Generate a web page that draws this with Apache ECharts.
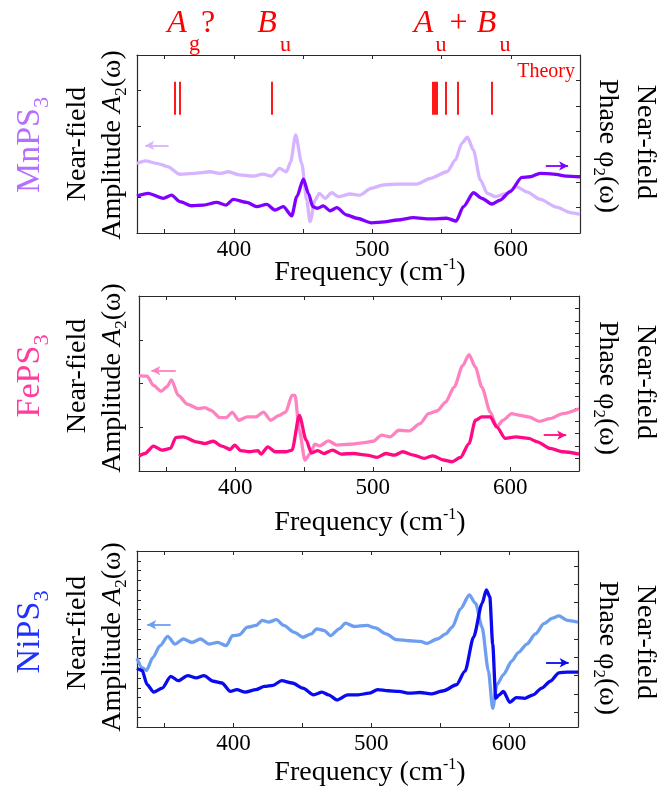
<!DOCTYPE html>
<html><head><meta charset="utf-8">
<script src="https://cdn.jsdelivr.net/npm/echarts@6/dist/echarts.min.js"></script>
<style>html,body{margin:0;padding:0;background:#fff;}#c{width:669px;height:787px;}</style>
</head><body><div id="c"></div>
<script>
// ---------- data ----------
const xTickValues = [350,400,450,500,550,600,650];
const xLabelValues = [400,500,600];

// MnPS3 (values in % of panel height)
const mnAmpX = [330,336,345,352,361,371,383,390,396,404,414,421,427,433,438,441,444.6,449,452.6,455,458.6,461.7,465.8,470.7,475.5,484,491,499,508,518,532,542,554,560,564.6,568.7,573,578,583,589,597,604,612,621,633,643,650];
const mnAmpY = [39,40.5,39,37.3,33,33.5,34.4,33.5,34.4,32.6,32,33.1,32,36.3,34.4,40,55.1,39.1,18.5,6.4,18.5,22.3,19.5,22.6,20.4,21.9,21.3,25.1,27,27.5,27.5,30.7,34.4,41,50.4,53.8,46.6,29.8,22.3,20.4,22.3,26,23,19,14.5,11.5,10.5];
const mnPhX = [330,338,349,355,361,369.5,378,387.6,394.3,399.6,409.3,416.5,423.7,429.7,435.7,441.8,445.4,450.2,453.8,457,460.3,464.6,469.5,474.3,481.5,488.7,499.4,508.7,518,529.6,541.7,553.8,560.5,565.8,573,579.1,586.3,592.3,599.5,608,614,621.2,630.8,640.5,650];
const mnPhY = [20.8,22.3,19.5,21.3,17.6,15.3,15.7,17.2,15.7,18.9,17.2,14.8,16.1,12.9,14.8,9.7,20.4,30.2,22.3,14.8,13.9,15.2,12.5,14.2,10.1,8.3,5.7,6.2,7.3,8.6,7.9,8.3,6.7,14.8,22.6,19.5,16.3,18.5,23.2,31.3,31.6,33.5,33.1,32,31.6];
const theoryX = [357,361,427,543.8,545,546.2,553,562,586.5];
const theoryYRange = [66.5,85];

// FePS3
const feAmpX = [330,335.9,340.5,346.1,350.5,353.6,358.5,365.4,373.1,377.8,382.4,388.6,393.3,397.9,402.6,408.8,415,420.5,425.8,432,436.7,441.3,443.5,446.6,450.6,454.7,457.8,461.5,467.7,473.9,483.2,492.5,500.2,506.4,512.6,518.9,526.6,534.4,540.6,546.8,553,559.2,565.4,570,574.7,579.3,585.5,590.2,594.8,601,607.2,613.4,621.2,628.9,638.2,650];
const feAmpY = [54.5,54.2,48.9,45.6,48.3,52.1,43.2,38.1,35.6,36.2,34.7,30.5,30.5,33.5,29,30.9,30.9,33.7,29,31.8,33.7,43.2,43.2,23.3,6.3,10,15.3,14.4,17.2,14.8,15.3,16.1,17,20.5,19.5,23.3,22.9,27.1,32.8,34.3,39.4,47.9,60.2,66.5,59.3,47.9,33.7,25.2,29,32.8,31.8,30.9,28.4,29.9,32.8,35.6];
const fePhX = [330,334.3,340.5,346.7,352.9,356.7,362.3,371.6,377.8,384,390.2,396.4,399.5,404.1,410.3,416.5,418.7,423.7,428.9,436.7,441.3,446.6,451.6,455.3,460,464.6,470.8,477,486.3,495.6,503.3,509.5,515.7,521.9,529.7,537.5,543.7,551.4,557.6,563.8,570,574.7,579.3,585.5,590.2,596.4,604.1,613.4,619.7,629,638.3,650];
const fePhY = [8.5,10,14.2,11.9,12.9,19.1,19.5,16.7,15.7,17,14.2,12.3,14.8,11.6,11,11.6,9.7,13.8,11,11,11.9,31.8,17.6,10.4,11.6,10,11.9,9.7,10,9.1,7.8,10,9.1,11,9.1,7.2,8.7,6.3,5.3,7.8,15.7,29,30.9,30.9,25.2,18.6,19.5,18.6,16.7,12.9,11,9.7];

// NiPS3
const niAmpX = [330,333.7,336.8,341.5,346.7,352.3,357.5,363.7,369.9,376.1,382.3,388.5,394.7,399.3,404,410.2,416.4,421,425.6,431.2,436.5,444.2,450.4,456.6,460.3,465.9,470.5,476.7,481.3,487.5,496.8,503,510.7,518.5,527.8,535.5,540.1,547.9,554.1,558.7,564.9,571.1,575.7,580.4,585,588.1,591.2,595.9,602,606.7,612.9,619.1,625.3,631.5,636.1,642.3,650];
const niAmpY = [39,33.7,32.1,39.4,46.2,51.5,47.1,50,48.1,50,47.1,48.1,46.2,51.9,52.3,56.7,57.7,60.6,59.6,61,57.7,53.8,51,52.9,55.8,54.8,51.9,55.8,59,57.1,57.7,56.3,52.9,49.6,49,48.7,47.5,50,52.9,56.7,67.3,75,70.2,56.7,31.7,10.6,24,29.8,37.5,42.3,47.1,52.9,58.7,61.9,63.1,60.6,59.6];
const niPhX = [330,333.7,337.4,342.1,348.3,354.5,360,366.8,373,378.6,385.4,391.6,397.8,402.4,408.6,416.3,422.5,428.7,434.9,442.7,450.4,458.1,464.3,469,475.2,482.9,490.6,498.4,504.6,512.3,520,527.8,535.5,543.2,552.5,561.8,568,574.2,580.4,583.5,586,588.1,590.3,592.8,595.9,600.5,605.1,611.3,617.5,623.7,629.9,636.1,642.3,650];
const niPhY = [33.3,32.1,24,19.8,22.1,28.8,26.3,29.2,27.9,29.2,26,25,20.2,21.2,19.8,21.2,23.1,23.7,26.3,25,22.1,18.3,19.8,18.3,15.4,18.3,18.3,19.2,21.2,20.6,20.2,19.2,19.6,18.8,20.6,24,31.7,51,70.2,77.9,74,47.1,16.3,18.3,20.2,14,16.7,16.3,18.3,22.1,26,30.8,31.2,31.2];

// arrows: [fromX, toX, y]
const mnAmpArrow = [352.8,335.9,49.2], mnPhArrow = [625.3,641.4,37.7];
const feAmpArrow = [356.7,339,57.4],  fePhArrow = [624.3,640.7,20.5];
const niAmpArrow = [354.4,337.4,58.1], niPhArrow = [626.8,643.2,36.5];

// ---------- layout ----------
const FONT = 'Liberation Serif';
const AX = '#2a2a2a';
const panels = [
  {grid:{left:137,top:55,width:443,height:178}, leftMax:5, rightMax:7, rightTicks:null,
   amp:[mnAmpX,mnAmpY], ph:[mnPhX,mnPhY], ampArrow:mnAmpArrow, phArrow:mnPhArrow,
   ampColor:'#d6b4ff', phColor:'#8000ff'},
  {grid:{left:139,top:296,width:440,height:175}, leftMax:4, rightMax:14, rightTicks:null,
   amp:[feAmpX,feAmpY], ph:[fePhX,fePhY], ampArrow:feAmpArrow, phArrow:fePhArrow,
   ampColor:'#ff82c0', phColor:'#ff0a84'},
  {grid:{left:137,top:551,width:441,height:176}, leftMax:18, rightMax:9.65, rightTicks:[0.82,1.82,2.82,3.82,4.82,5.82,6.82,7.82,8.82],
   amp:[niAmpX,niAmpY], ph:[niPhX,niPhY], ampArrow:niAmpArrow, phArrow:niPhArrow,
   ampColor:'#6e9ef0', phColor:'#0a0aee'}
];

const pairs = (xs, ys) => xs.map((x, i) => [x, ys[i]]);
const grids = [], xAxes = [], yAxes = [], series = [];

panels.forEach((p, i) => {
  grids.push(Object.assign({containLabel:false}, p.grid));
  const xBase = {type:'value', gridIndex:i, min:330, max:650, splitLine:{show:false},
    axisLine:{show:true, onZero:false, lineStyle:{color:AX, width:1.2}}};
  xAxes.push(Object.assign({}, xBase, {position:'bottom',
    axisTick:{show:true, inside:true, length:4, customValues:xTickValues, lineStyle:{color:AX}},
    axisLabel:{show:true, customValues:xLabelValues, fontFamily:FONT, fontSize:23, color:'#000', margin:5}}));
  xAxes.push(Object.assign({}, xBase, {position:'top',
    axisTick:{show:true, inside:true, length:4, customValues:xTickValues, lineStyle:{color:AX}},
    axisLabel:{show:false}}));
  yAxes.push({type:'value', gridIndex:i, min:0, max:100, show:false});
  yAxes.push({type:'value', gridIndex:i, min:0, max:p.leftMax, interval:1, position:'left',
    axisLine:{show:true, onZero:false, lineStyle:{color:AX, width:1.2}},
    axisTick:{show:true, inside:true, length:4, lineStyle:{color:AX}},
    axisLabel:{show:false}, splitLine:{show:false}});
  const r = {type:'value', gridIndex:i, min:0, max:p.rightMax, position:'right',
    axisLine:{show:true, onZero:false, lineStyle:{color:AX, width:1.2}},
    axisTick:{show:true, inside:true, length:4, lineStyle:{color:AX}},
    axisLabel:{show:false}, splitLine:{show:false}};
  if (p.rightTicks) r.axisTick.customValues = p.rightTicks; else r.interval = 1;
  yAxes.push(r);

  const arrowML = (a, color) => ({silent:true, symbol:['none','arrow'], symbolSize:[7,9], precision:3,
    label:{show:false}, lineStyle:{color:color, width:1.8, type:'solid'}, emphasis:{disabled:true},
    data:[[{coord:[a[0], a[2]]},{coord:[a[1], a[2]]}]]});
  const lineS = (d, color, arrow) => ({type:'line', xAxisIndex:2*i, yAxisIndex:3*i,
    data:pairs(d[0], d[1]), showSymbol:false, smooth:0.25, smoothMonotone:'x',
    lineStyle:{color:color, width:3.3}, itemStyle:{color:color}, silent:true, z:3,
    markLine:arrowML(arrow, color)});
  series.push(lineS(p.amp, p.ampColor, p.ampArrow));
  series.push(lineS(p.ph, p.phColor, p.phArrow));
});

series.push({type:'line', xAxisIndex:0, yAxisIndex:0, data:[], silent:true,
  markLine:{silent:true, symbol:['none','none'], label:{show:false},
    lineStyle:{color:'#ff0000', width:1.8, type:'solid'}, emphasis:{disabled:true},
    data: theoryX.map(x => [{coord:[x, theoryYRange[0]]},{coord:[x, theoryYRange[1]]}])}});

// ---------- text ----------
const RED = '#ff0000';
function t(x, y, text, o) {
  o = o || {};
  return {type:'text', x:x, y:y, rotation:o.rot || 0, silent:true, z:10,
    style:{text:text, fill:o.color || '#000', fontFamily:FONT, fontSize:o.size || 28,
      fontStyle:o.italic ? 'italic' : 'normal', align:o.align || 'center', verticalAlign:'middle', rich:o.rich}};
}
const R90 = Math.PI/2;
const graphics = [];
const matNames = [['MnPS','#b56fff'],['FePS','#ff3ca0'],['NiPS','#2030ff']];
const leftYs = [[145,144,145],[376,376,378],[632,633,637]];
const rightYs = [[146,142],[388,382],[648,642]];
const freqY = [272,522,772];
matNames.forEach((m, k) => {
  const [yMat, yNF, yAmp] = leftYs[k];
  graphics.push({type:'text', x:30+12, y:yMat, rotation:R90, silent:true,
    style:{text:'{m|' + m[0] + '}{s|3}', fill:m[1], align:'center', verticalAlign:'middle',
      rich:{m:{fontSize:34, fontFamily:FONT, lineHeight:34, verticalAlign:'top', fill:m[1]},
            s:{fontSize:22, fontFamily:FONT, lineHeight:58, verticalAlign:'middle', fill:m[1]}}}});
  graphics.push(t(78, yNF, 'Near-field', {rot:R90}));
  graphics.push({type:'text', x:113+9, y:yAmp, rotation:R90, silent:true,
    style:{text:'{m|Amplitude }{i|A}{s|2}{m|(ω)}', fill:'#000', align:'center', verticalAlign:'middle',
      rich:{m:{fontSize:28, fontFamily:FONT, lineHeight:28, verticalAlign:'top'},
            i:{fontSize:28, fontFamily:FONT, fontStyle:'italic', lineHeight:28, verticalAlign:'top'},
            s:{fontSize:17, fontFamily:FONT, lineHeight:46, verticalAlign:'middle'}}}});
  const [yPh, yNF2] = rightYs[k];
  graphics.push({type:'text', x:607-9, y:yPh, rotation:-R90, silent:true,
    style:{text:'{m|Phase φ}{s|2}{m|(ω)}', fill:'#000', align:'center', verticalAlign:'middle',
      rich:{m:{fontSize:28, fontFamily:FONT, lineHeight:28, verticalAlign:'top'},
            s:{fontSize:17, fontFamily:FONT, lineHeight:46, verticalAlign:'middle'}}}});
  graphics.push(t(645, yNF2, 'Near-field', {rot:-R90}));
  graphics.push({type:'text', x:370, y:freqY[k], silent:true,
    style:{text:'{m|Frequency (cm}{u|-1}{m|)}', fill:'#000', align:'center', verticalAlign:'middle',
      rich:{m:{fontSize:28, fontFamily:FONT, lineHeight:30, verticalAlign:'bottom'},
            u:{fontSize:16, fontFamily:FONT, lineHeight:16, verticalAlign:'top'}}}});
});
graphics.push(t(177, 24, 'A', {italic:true, size:32, color:RED}));
graphics.push(t(194.5, 44, 'g', {size:22, color:RED}));
graphics.push(t(208, 24, '?', {size:32, color:RED}));
graphics.push(t(267, 24, 'B', {italic:true, size:32, color:RED}));
graphics.push(t(285.5, 45, 'u', {size:22, color:RED}));
graphics.push(t(423.5, 24, 'A', {italic:true, size:32, color:RED}));
graphics.push(t(441, 45, 'u', {size:22, color:RED}));
graphics.push(t(458.5, 24, '+', {size:32, color:RED}));
graphics.push(t(486.5, 24, 'B', {italic:true, size:32, color:RED}));
graphics.push(t(505, 45, 'u', {size:22, color:RED}));
graphics.push(t(575, 72, 'Theory', {size:20, color:RED, align:'right'}));

const chart = echarts.init(document.getElementById('c'), null, {renderer:'canvas'});
chart.setOption({
  animation:false, backgroundColor:'#fff',
  grid:grids, xAxis:xAxes, yAxis:yAxes, series:series, graphic:graphics
});
</script></body></html>
